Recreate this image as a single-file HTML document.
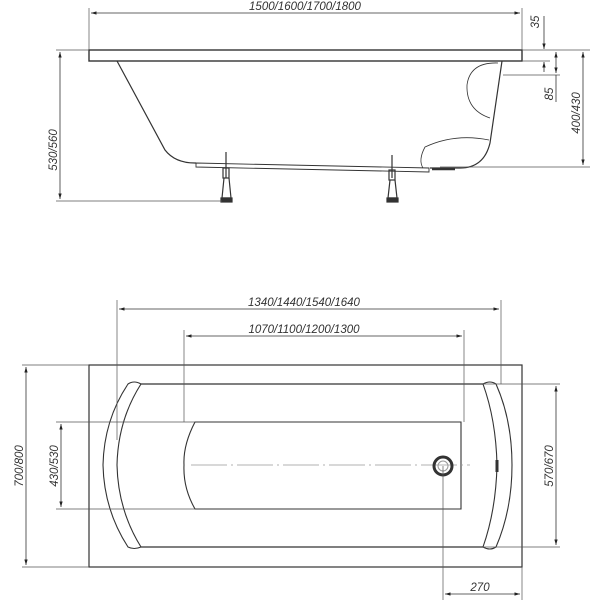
<!DOCTYPE html>
<html><head><meta charset="utf-8"><style>
body{margin:0;background:#fff}
svg{display:block}
text{font-family:"Liberation Sans",sans-serif;font-size:11.5px;font-style:italic;fill:#333}
</style></head><body>
<svg width="600" height="600" viewBox="0 0 600 600" xmlns="http://www.w3.org/2000/svg">
<defs>
<marker id="a" viewBox="0 0 10 10" refX="10" refY="5" markerWidth="7" markerHeight="7" orient="auto-start-reverse"><path d="M0,2 L10,5 L0,8z" fill="#222"/></marker>
</defs>
<g stroke="#333" fill="none" stroke-width="1">
<rect x="89" y="50" width="433" height="11" stroke-width="1.4"/>
<path d="M117,61 L165,150 Q175,163 195,163 L196,163" stroke-width="1.2"/>
<path d="M502,61 L490,143 Q484,168 460,168 L430,168" stroke-width="1.2"/>
<path d="M196,163 L429,168 L429,172 L196,167 Z" stroke-width="0.9"/>
<path d="M498,63 Q470,62 467,85 Q466,110 490,118" stroke-width="0.8"/>
<path d="M489,140 Q455,133 425,147 Q418,160 423,168" stroke-width="0.8"/>
<path d="M432,169 L455,169" stroke-width="2.5"/>
<g stroke-width="1.2">
<path d="M226,152 V178 M392,155 V178"/>
<rect x="223" y="168" width="6" height="10"/><rect x="389" y="170" width="6" height="10"/>
<path d="M224,178 L222,198 H231 L229,178 M390,180 L388,198 H397 L395,180"/>
<rect x="221" y="198" width="11" height="4" fill="#333"/><rect x="387" y="198" width="11" height="4" fill="#333"/>
</g>
<g stroke-width="0.7" stroke="#555">
<path d="M89,50 V8 M522,50 V8 M56,50 H89 M56,201 H222 M522,50 H590 M522,61 H550 M503,75 H560 M440,167 H590"/>
</g>
<g stroke-width="0.8">
<line x1="91" y1="13" x2="520" y2="13" marker-start="url(#a)" marker-end="url(#a)"/>
<line x1="60" y1="52" x2="60" y2="199" marker-start="url(#a)" marker-end="url(#a)"/>
<line x1="583" y1="52" x2="583" y2="165" marker-start="url(#a)" marker-end="url(#a)"/>
<line x1="544" y1="16" x2="544" y2="49" marker-end="url(#a)"/>
<line x1="544" y1="72" x2="544" y2="62" marker-end="url(#a)"/>
<line x1="556" y1="52" x2="556" y2="73" marker-start="url(#a)" marker-end="url(#a)"/>
<line x1="556" y1="75" x2="556" y2="102"/>
</g>
<rect x="89" y="365" width="433" height="202" stroke-width="1.2"/>
<path d="M141,384 H483 M141,547 H483" stroke-width="1.2"/>
<path d="M141,384 Q118,420 117,465 Q118,510 141,547 Q134,550 128,547 Q104,510 103,465 Q104,420 128,384 Q134,380 141,384 Z" stroke-width="1.1"/>
<path d="M483,384 Q496,420 497,465 Q496,510 483,547 Q490,551 496,547 Q512,510 512,465 Q512,420 496,384 Q490,380 483,384 Z" stroke-width="1.1"/>
<path d="M461,422 H195 Q183,445 184,465 Q183,488 195,509 H461 Z" stroke-width="1.1"/>
<path d="M191,465 H470" stroke="#999" stroke-width="0.8" stroke-dasharray="36,4,2,4"/>
<circle cx="443" cy="466" r="9" stroke-width="3"/>
<circle cx="443" cy="466" r="5" stroke-width="1" stroke="#999"/>
<path d="M497,460 V472" stroke-width="3"/>
<g stroke-width="0.7" stroke="#555">
<path d="M117,300 V440 M501,300 V384 M184,330 V422 M464,330 V422 M56,422 H195 M56,509 H195 M22,365 H89 M22,567 H89 M483,384 H560 M483,547 H560 M443,466 V600 M522,567 V600"/>
</g>
<g stroke-width="0.8">
<line x1="119" y1="309" x2="499" y2="309" marker-start="url(#a)" marker-end="url(#a)"/>
<line x1="186" y1="336" x2="462" y2="336" marker-start="url(#a)" marker-end="url(#a)"/>
<line x1="26" y1="367" x2="26" y2="565" marker-start="url(#a)" marker-end="url(#a)"/>
<line x1="61" y1="424" x2="61" y2="507" marker-start="url(#a)" marker-end="url(#a)"/>
<line x1="556" y1="386" x2="556" y2="545" marker-start="url(#a)" marker-end="url(#a)"/>
<line x1="445" y1="594" x2="520" y2="594" marker-start="url(#a)" marker-end="url(#a)"/>
</g>
</g>
<text x="305" y="10" text-anchor="middle">1500/1600/1700/1800</text>
<text transform="translate(57,150) rotate(-90)" text-anchor="middle">530/560</text>
<text transform="translate(539,22) rotate(-90)" text-anchor="middle">35</text>
<text transform="translate(553,94) rotate(-90)" text-anchor="middle">85</text>
<text transform="translate(580,113) rotate(-90)" text-anchor="middle">400/430</text>
<text x="304" y="306" text-anchor="middle">1340/1440/1540/1640</text>
<text x="304" y="333" text-anchor="middle">1070/1100/1200/1300</text>
<text transform="translate(23,466) rotate(-90)" text-anchor="middle">700/800</text>
<text transform="translate(58,466) rotate(-90)" text-anchor="middle">430/530</text>
<text transform="translate(553,466) rotate(-90)" text-anchor="middle">570/670</text>
<text x="480" y="591" text-anchor="middle">270</text>
</svg>
</body></html>
